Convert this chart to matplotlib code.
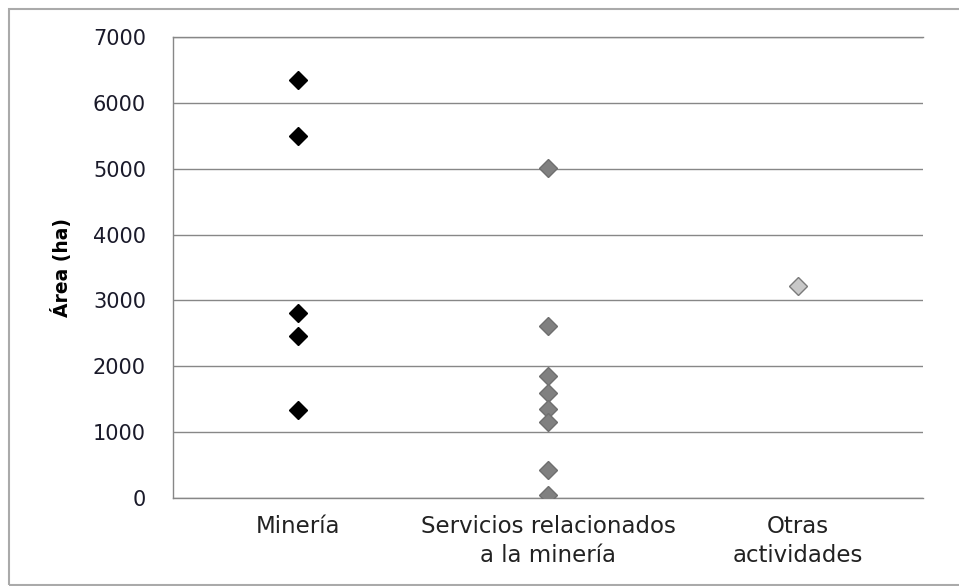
import matplotlib
matplotlib.use("Agg")
import matplotlib.pyplot as plt
from matplotlib.patches import Rectangle

categories = ["Minería", "Servicios relacionados\na la minería", "Otras\nactividades"]

mineria = [6347, 5497, 2809, 2460, 1336]
servicios = [5010, 2605, 1845, 1590, 1345, 1160, 425, 50]
otras = [3219]

yticks = [0, 1000, 2000, 3000, 4000, 5000, 6000, 7000]

W, H = 959, 586
fig = plt.figure(figsize=(W / 100, H / 100), dpi=100)
ax = fig.add_axes([173 / W, 1 - 498 / H, 750 / W, 461 / H])

grid_c = "#878787"
ax.plot([1] * len(mineria), mineria, "D", ms=9.5, color="black", mec="black", mew=1, zorder=3)
ax.plot([2] * len(servicios), servicios, "D", ms=9.5, color="#808080", mec="#6f6f6f", mew=1, zorder=3)
ax.plot([3] * len(otras), otras, "D", ms=9, color="#c8c8c8", mec="#7a7a7a", mew=1, zorder=3)

ax.set_xlim(0.5, 3.5)
ax.set_ylim(0, 7000)
ax.set_yticks(yticks)
ax.set_yticklabels([str(v) for v in yticks], fontsize=15, color="#1a1a2a")
ax.set_xticks([1, 2, 3])
ax.set_xticklabels(categories, fontsize=16.5, color="#222222", linespacing=1.35)
ax.tick_params(axis="both", length=0)
ax.tick_params(axis="y", pad=19.5)
ax.tick_params(axis="x", pad=12)

ax.yaxis.grid(True, color=grid_c, lw=1.0)
ax.set_axisbelow(True)
for side in ["left", "top", "bottom"]:
    ax.spines[side].set_color(grid_c)
    ax.spines[side].set_linewidth(1.0)
ax.spines["right"].set_visible(False)

ax.set_ylabel("Área (ha)", fontsize=13.5, fontweight="bold", labelpad=15)

fig.patches.append(Rectangle((8.5 / W, 1 / H), 1.0, 1 - 9.5 / H, transform=fig.transFigure,
                             fill=False, edgecolor="#aaaaaa", lw=1.5))

fig.savefig("out.png", dpi=100)
